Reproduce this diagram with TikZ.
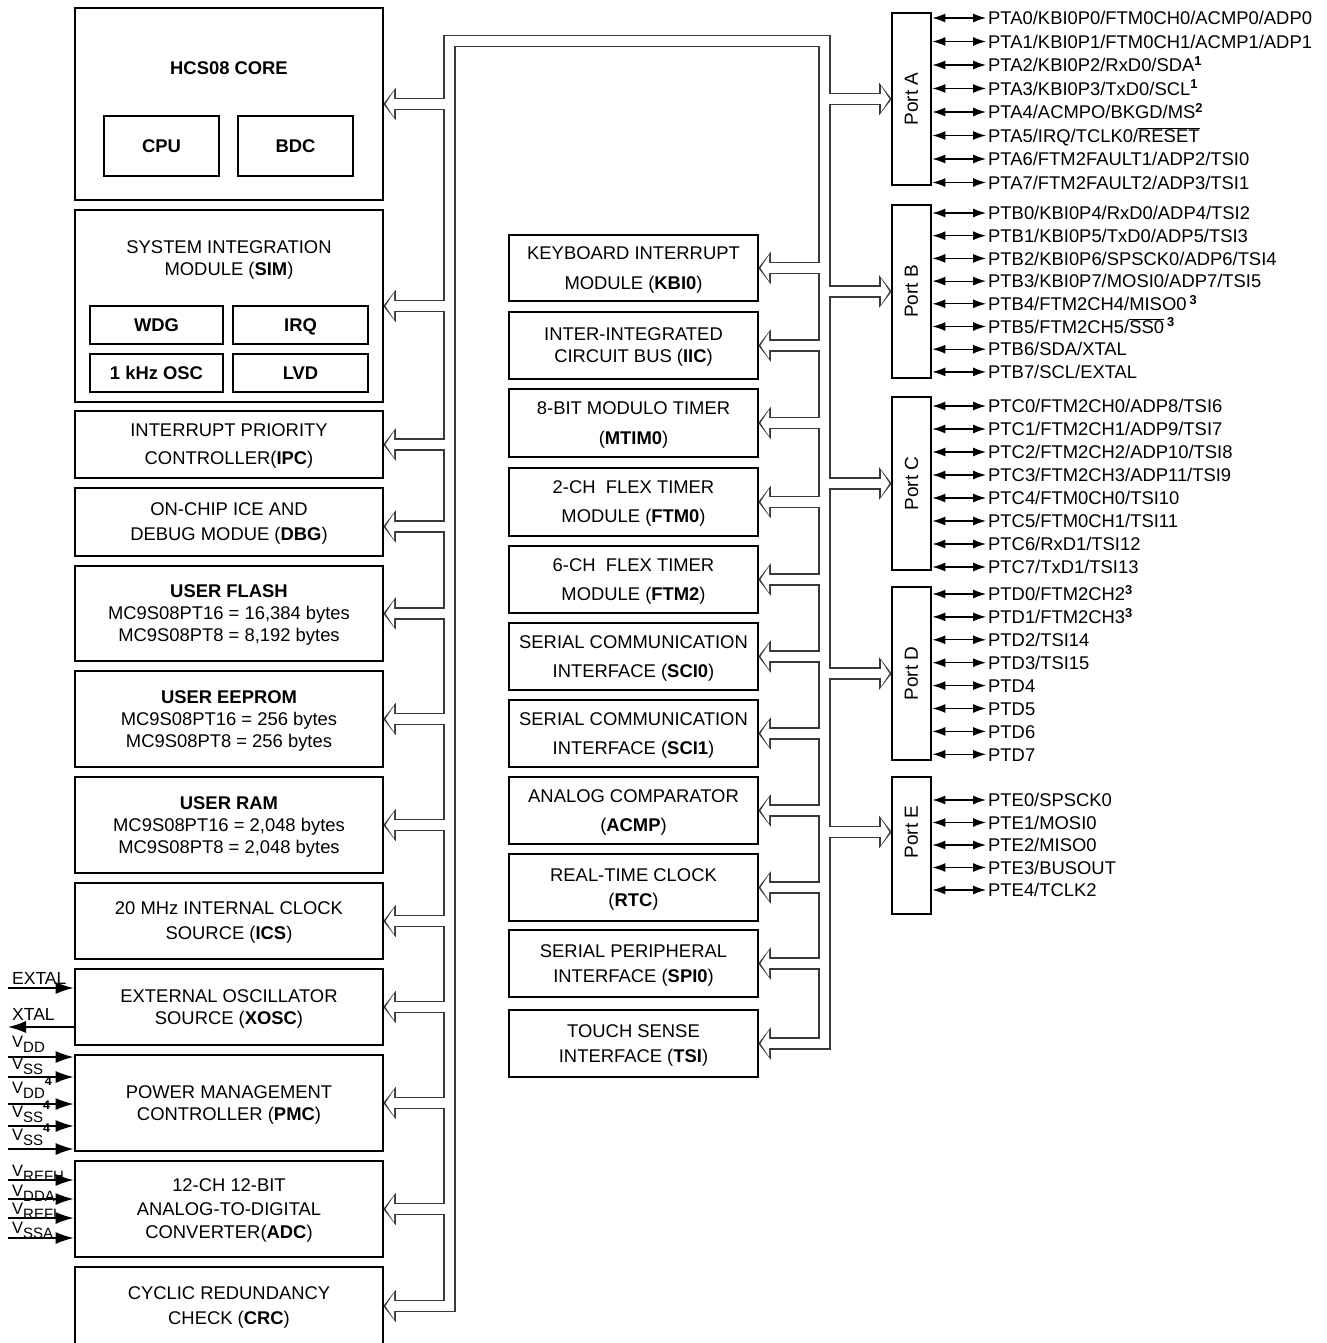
\documentclass[tikz,border=0pt]{standalone}
\usepackage{fontspec}
\setmainfont{Liberation Sans}
\usetikzlibrary{arrows.meta}
\definecolor{pipegray}{HTML}{383838}

\newcommand\fn[1]{\textsuperscript{\bfseries #1}}
\newcommand\vsub[1]{\lower5pt\hbox{\fontsize{15}{15}\selectfont #1}}
\newcommand\vsup[1]{\raise8pt\hbox{\fontsize{12.5}{12.5}\selectfont\bfseries #1}}
\newcommand\ovl[1]{$\overline{\hbox{#1}}$}

\begin{document}
\begin{tikzpicture}[x=1pt, y=-1pt, font=\fontsize{18.4}{22}\selectfont,
  block/.style={draw, line width=2.8pt, minimum width=308pt, align=center, inner sep=0pt,
    text depth=-3.5pt},
  midblock/.style={block, minimum width=249pt},
  subblock/.style={draw, line width=1.6pt, text height=13.2pt, text depth=0pt,
    font=\fontsize{18.4}{22}\selectfont\bfseries},
  port/.style={draw, line width=2.8pt, minimum width=39pt, font=\fontsize{19}{22}\selectfont},
  pinlbl/.style={anchor=west, inner sep=0pt, text height=13.5pt, text depth=0pt},
  pin/.style={line width=1.2pt, shorten >=2pt, {Latex[length=13pt,width=9pt]}-{Latex[length=13pt,width=9pt]}},
  vlbl/.style={anchor=base west, inner sep=0pt, font=\fontsize{16.5}{18}\selectfont},
  pinin/.style={line width=1.4pt, -{Latex[length=18pt,width=12pt]}},
]
\useasboundingbox (0,0) rectangle (1326,1343);

% left column
\node[block, minimum height=192pt] (core) at (229,104) {};
\node[font=\fontsize{18.4}{22}\selectfont\bfseries] (coretitle) at (229,68) {HCS08 CORE};
\node[subblock, minimum width=115pt, minimum height=60pt] (cpu) at (161.5,146) {CPU};
\node[subblock, minimum width=115pt, minimum height=60pt] (bdc) at (295.5,146) {BDC};
\node[block, minimum height=192pt] (sim) at (229,306) {};
\node[align=center] (simtitle) at (229,260) {SYSTEM INTEGRATION\\MODULE (\textbf{SIM})};
\node[subblock, minimum width=133pt, minimum height=38pt] (wdg) at (156.5,325) {WDG};
\node[subblock, minimum width=135pt, minimum height=38pt] (irq) at (300.5,325) {IRQ};
\node[subblock, minimum width=133pt, minimum height=38pt] (osc) at (156.5,373) {1 kHz OSC};
\node[subblock, minimum width=135pt, minimum height=38pt] (lvd) at (300.5,373) {LVD};
\node[block, minimum height=67pt] (ipc) at (229,444.5) {INTERRUPT PRIORITY\\[6pt]CONTROLLER(\textbf{IPC})};
\node[block, minimum height=68pt] (dbg) at (229,522) {ON-CHIP ICE AND\\[3pt]DEBUG MODUE (\textbf{DBG})};
\node[block, minimum height=95pt] (flash) at (229,613.5) {\textbf{USER FLASH}\\MC9S08PT16 = 16,384 bytes\\MC9S08PT8 = 8,192 bytes};
\node[block, minimum height=96pt] (eeprom) at (229,719) {\textbf{USER EEPROM}\\MC9S08PT16 = 256 bytes\\MC9S08PT8 = 256 bytes};
\node[block, minimum height=96pt] (ram) at (229,825) {\textbf{USER RAM}\\MC9S08PT16 = 2,048 bytes\\MC9S08PT8 = 2,048 bytes};
\node[block, minimum height=76pt] (ics) at (229,921) {20 MHz INTERNAL CLOCK\\[3pt]SOURCE (\textbf{ICS})};
\node[block, minimum height=76pt] (xosc) at (229,1007) {EXTERNAL OSCILLATOR\\SOURCE (\textbf{XOSC})};
\node[block, minimum height=96pt] (pmc) at (229,1103) {POWER MANAGEMENT\\CONTROLLER (\textbf{PMC})};
\node[block, minimum height=96pt] (adc) at (229,1209) {12-CH 12-BIT\\[1.5pt]ANALOG-TO-DIGITAL\\[1.5pt]CONVERTER(\textbf{ADC})};
\node[block, minimum height=78pt] (crc) at (229,1306) {CYCLIC REDUNDANCY\\[3pt]CHECK (\textbf{CRC})};

% middle column
\node[midblock, minimum height=66pt] (kbi) at (633.5,268) {KEYBOARD INTERRUPT\\[8pt]MODULE (\textbf{KBI0})};
\node[midblock, minimum height=67pt] (iic) at (633.5,345.5) {INTER-INTEGRATED\\CIRCUIT BUS (\textbf{IIC})};
\node[midblock, minimum height=68pt] (mtim) at (633.5,423) {8-BIT MODULO TIMER\\[8pt](\textbf{MTIM0})};
\node[midblock, minimum height=68pt] (ftm0) at (633.5,502) {2-CH\ \ FLEX TIMER\\[7pt]MODULE (\textbf{FTM0})};
\node[midblock, minimum height=67pt] (ftm2) at (633.5,579.5) {6-CH\ \ FLEX TIMER\\[7pt]MODULE (\textbf{FTM2})};
\node[midblock, minimum height=67pt] (sci0) at (633.5,656.5) {SERIAL COMMUNICATION\\[7pt]INTERFACE (\textbf{SCI0})};
\node[midblock, minimum height=67pt] (sci1) at (633.5,733.5) {SERIAL COMMUNICATION\\[7pt]INTERFACE (\textbf{SCI1})};
\node[midblock, minimum height=67pt] (acmp) at (633.5,810.5) {ANALOG COMPARATOR\\[7pt](\textbf{ACMP})};
\node[midblock, minimum height=67pt] (rtc) at (633.5,887.5) {REAL-TIME CLOCK\\[3pt](\textbf{RTC})};
\node[midblock, minimum height=67pt] (spi) at (633.5,963.5) {SERIAL PERIPHERAL\\[3pt]INTERFACE (\textbf{SPI0})};
\node[midblock, minimum height=67pt] (tsi) at (633.5,1043.5) {TOUCH SENSE\\[3pt]INTERFACE (\textbf{TSI})};

% ports
\node[port, minimum height=172pt] (portA) at (911.5,99) {\rotatebox{90}{Port A}};
\node[port, minimum height=173pt] (portB) at (911.5,291.5) {\rotatebox{90}{Port B}};
\node[port, minimum height=173pt] (portC) at (911.5,483.5) {\rotatebox{90}{Port C}};
\node[port, minimum height=173pt] (portD) at (911.5,673.5) {\rotatebox{90}{Port D}};
\node[port, minimum height=137pt] (portE) at (911.5,845.5) {};
\coordinate (portEin) at ([yshift=13.5pt]portE.west);
\node[font=\fontsize{19}{22}\selectfont] (portElbl) at (portEin -| portE) {\rotatebox{90}{Port E}};
\coordinate (dbgin) at ([yshift=-4.5pt]dbg.east);

% internal bus: dark pass, then white pass
\coordinate (lbus) at (449.5,41);
\coordinate (rbus) at (824.5,41);
\foreach \col/\wd/\cut/\tx/\bx/\hh in {pipegray/12.8/11/1.1/-11.4/16.2, white/9.2/9/-1.1/-9.6/13} {
  \draw[draw=\col, line width=\wd pt, line join=miter, shorten <=\cut pt, shorten >=\cut pt]
    (crc.east) -- (lbus |- crc.east) -- (lbus) -- (rbus) -- (rbus |- tsi.east) -- (tsi.east);
  \foreach \b in {core.east,sim.east,ipc.east,dbgin,flash.east,eeprom.east,ram.east,ics.east,xosc.east,pmc.east,adc.east}
    \draw[draw=\col, line width=\wd pt, shorten >=\cut pt] (lbus |- \b) -- (\b);
  \foreach \b in {kbi,iic,mtim,ftm0,ftm2,sci0,sci1,acmp,rtc,spi}
    \draw[draw=\col, line width=\wd pt, shorten >=\cut pt] (rbus |- \b.east) -- (\b.east);
  \foreach \b in {portA.west,portB.west,portC.west,portD.west,portEin}
    \draw[draw=\col, line width=\wd pt, shorten >=\cut pt] (rbus |- \b) -- (\b);
  \foreach \b in {core.east,sim.east,ipc.east,dbgin,flash.east,eeprom.east,ram.east,ics.east,xosc.east,pmc.east,adc.east,crc.east,
      kbi.east,iic.east,mtim.east,ftm0.east,ftm2.east,sci0.east,sci1.east,acmp.east,rtc.east,spi.east,tsi.east}
    \fill[fill=\col, shift={(\b)}, rotate=180] (\tx,0) -- (\bx,\hh) -- (\bx,-\hh) -- cycle;
  \foreach \b in {portA.west,portB.west,portC.west,portD.west,portEin}
    \fill[fill=\col, shift={(\b)}] (\tx,0) -- (\bx,\hh) -- (\bx,-\hh) -- cycle;
}

% port pins
\foreach \t [count=\i from 0] in {{PTA0/KBI0P0/FTM0CH0/ACMP0/ADP0}, {PTA1/KBI0P1/FTM0CH1/ACMP1/ADP1},
    {PTA2/KBI0P2/RxD0/SDA\fn{1}}, {PTA3/KBI0P3/TxD0/SCL\fn{1}}, {PTA4/ACMPO/BKGD/MS\fn{2}},
    {PTA5/IRQ/TCLK0/\ovl{RESET}}, {PTA6/FTM2FAULT1/ADP2/TSI0}, {PTA7/FTM2FAULT2/ADP3/TSI1}} {
  \node[pinlbl] (A\i) at (988, 18+23.5*\i) {\t};
  \draw[pin] (portA.east |- A\i.west) -- (A\i.west);
}
\foreach \t [count=\i from 0] in {{PTB0/KBI0P4/RxD0/ADP4/TSI2}, {PTB1/KBI0P5/TxD0/ADP5/TSI3},
    {PTB2/KBI0P6/SPSCK0/ADP6/TSI4}, {PTB3/KBI0P7/MOSI0/ADP7/TSI5}, {PTB4/FTM2CH4/MISO0\,\fn{3}},
    {PTB5/FTM2CH5/\ovl{SS0}\,\fn{3}}, {PTB6/SDA/XTAL}, {PTB7/SCL/EXTAL}} {
  \node[pinlbl] (B\i) at (988, 213+22.7*\i) {\t};
  \draw[pin] (portB.east |- B\i.west) -- (B\i.west);
}
\foreach \t [count=\i from 0] in {{PTC0/FTM2CH0/ADP8/TSI6}, {PTC1/FTM2CH1/ADP9/TSI7},
    {PTC2/FTM2CH2/ADP10/TSI8}, {PTC3/FTM2CH3/ADP11/TSI9}, {PTC4/FTM0CH0/TSI10},
    {PTC5/FTM0CH1/TSI11}, {PTC6/RxD1/TSI12}, {PTC7/TxD1/TSI13}} {
  \node[pinlbl] (C\i) at (988, 406+23*\i) {\t};
  \draw[pin] (portC.east |- C\i.west) -- (C\i.west);
}
\foreach \t [count=\i from 0] in {{PTD0/FTM2CH2\fn{3}}, {PTD1/FTM2CH3\fn{3}}, {PTD2/TSI14},
    {PTD3/TSI15}, {PTD4}, {PTD5}, {PTD6}, {PTD7}} {
  \node[pinlbl] (D\i) at (988, 594+22.9*\i) {\t};
  \draw[pin] (portD.east |- D\i.west) -- (D\i.west);
}
\foreach \t [count=\i from 0] in {{PTE0/SPSCK0}, {PTE1/MOSI0}, {PTE2/MISO0}, {PTE3/BUSOUT}, {PTE4/TCLK2}} {
  \node[pinlbl] (E\i) at (988, 800+22.5*\i) {\t};
  \draw[pin] (portE.east |- E\i.west) -- (E\i.west);
}

% external pins
\node[anchor=base west, inner sep=0pt, font=\fontsize{17.5}{20}\selectfont] (extal) at (12,984) {EXTAL};
\node[anchor=base west, inner sep=0pt, font=\fontsize{17.5}{20}\selectfont] (xtal) at (12,1020) {XTAL};
\coordinate (extalpin) at (8,988);
\coordinate (xtalpin) at (8,1027);
\draw[pinin] (extalpin) -- (xosc.west |- extalpin);
\draw[pinin] (xosc.west |- xtalpin) -- (xtalpin);
\foreach \nm/\y/\off/\t/\blk in {vdd/1057/10/{V\vsub{DD}}/pmc, vss/1077/8/{V\vsub{SS}}/pmc,
    vddb/1104/11/{V\vsub{DD}\vsup{4}}/pmc, vssb/1126/9/{V\vsub{SS}\vsup{4}}/pmc,
    vssc/1149/9/{V\vsub{SS}\vsup{4}}/pmc, vrefh/1180/4/{V\vsub{REFH}}/adc,
    vdda/1199/3/{V\vsub{DDA}}/adc, vrefl/1218/4/{V\vsub{REFL}}/adc, vssa/1238/5/{V\vsub{SSA}}/adc} {
  \node[vlbl] (\nm) at (12, \y-\off) {\t};
  \coordinate (\nm pin) at (8, \y);
  \draw[pinin] (\nm pin) -- (\blk.west |- \nm pin);
}
\end{tikzpicture}
\end{document}
